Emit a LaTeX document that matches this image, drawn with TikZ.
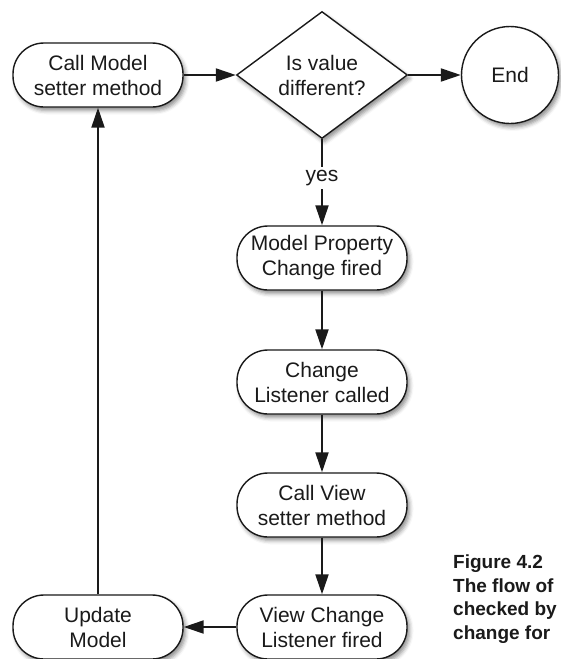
\documentclass[tikz,border=0pt]{standalone}
\usepackage{fontspec}
\setmainfont{Liberation Sans}
\usepackage{tikz}
\usetikzlibrary{arrows.meta,positioning,shapes.geometric,shadows.blur}
\definecolor{ink}{HTML}{1A1A1A}

\begin{document}
\begin{tikzpicture}[x=1pt,y=-1pt,
  soft/.style={blur shadow={shadow xshift=2.5pt,shadow yshift=-3.5pt,shadow blur radius=4pt,shadow opacity=45}},
  flow/.style={draw=ink,line width=1.4pt,fill=white,soft,rounded corners=31pt,minimum width=170pt,minimum height=64pt,align=center,text=ink,font=\fontsize{21}{25}\selectfont},
  test/.style={diamond,draw=ink,line width=1.4pt,fill=white,soft,aspect=1.33,inner sep=0pt,minimum width=171pt,minimum height=127pt,align=center,text=ink,font=\fontsize{21}{25}\selectfont},
  endbox/.style={circle,draw=ink,line width=1.4pt,fill=white,soft,minimum size=97pt,text=ink,font=\fontsize{21}{25}\selectfont},
  link/.style={draw=ink,line width=2pt,-{Triangle[length=20pt,width=13pt]}},
  figcap/.style={anchor=north west,inner sep=0pt,align=left,text=ink,font=\fontsize{19}{23.5}\selectfont\bfseries}
]
  \useasboundingbox (0,0) rectangle (560,659);
  \node[flow] (callm) at (98,75)   {Call Model\\setter method};
  \node[test] (check) at (322,75)  {Is value\\different?};
  \node[endbox] (done) at (510,75) {End};
  \node[flow] (mprop) at (322,258) {Model Property\\Change fired};
  \node[flow] (lstn)  at (322,382) {Change\\Listener called};
  \node[flow] (callv) at (322,505) {Call View\\setter method};
  \node[flow] (vlstn) at (322,627) {View Change\\Listener fired};
  \node[flow] (upd)   at (98,627)  {Update\\Model};
  \node[figcap] (caption) at (453,555) {Figure 4.2\\The flow of\\checked by\\change for};
  \draw[link] (callm) -- (check);
  \draw[link] (check) -- (done);
  \draw[link] (check) -- node[pos=0.45,fill=white,inner sep=3pt,text=ink,font=\fontsize{21}{25}\selectfont] (yes) {yes} (mprop);
  \draw[link] (mprop) -- (lstn);
  \draw[link] (lstn) -- (callv);
  \draw[link] (callv) -- (vlstn);
  \draw[link] (vlstn) -- (upd);
  \draw[link] (upd) -- (callm);
\end{tikzpicture}
\end{document}
